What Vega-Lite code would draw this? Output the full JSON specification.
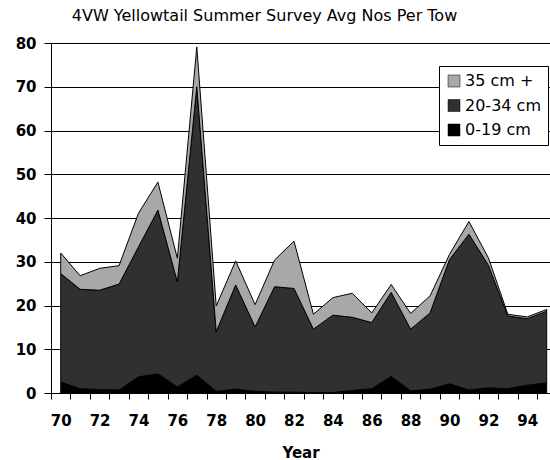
{
  "$schema": "https://vega.github.io/schema/vega-lite/v6.json",
  "autosize": {"type": "none"},
  "padding": {"left": 51, "top": 43, "right": 0, "bottom": 67},
  "width": 499,
  "height": 350,
  "background": "white",
  "title": {
    "text": "4VW Yellowtail Summer Survey Avg Nos Per Tow",
    "font": "DejaVu Sans",
    "fontSize": 16,
    "fontWeight": "normal",
    "color": "black",
    "anchor": "middle",
    "baseline": "alphabetic",
    "offset": -1,
    "dx": -36
  },
  "config": {
    "view": {"stroke": null},
    "axis": {
      "labelFont": "DejaVu Sans",
      "labelFontWeight": "bold",
      "labelFontSize": 15,
      "labelColor": "black",
      "titleFont": "DejaVu Sans",
      "titleFontWeight": "bold",
      "titleFontSize": 15,
      "titleColor": "black",
      "domainColor": "black",
      "tickColor": "black",
      "gridColor": "black",
      "gridOpacity": 1
    },
    "legend": {
      "labelFont": "DejaVu Sans",
      "labelFontSize": 16,
      "labelColor": "black"
    }
  },
  "data": {
    "values": [
      {"year": 70, "size": "0-19 cm", "n": 2.5}, {"year": 70, "size": "20-34 cm", "n": 24.8}, {"year": 70, "size": "35 cm +", "n": 4.7},
      {"year": 71, "size": "0-19 cm", "n": 1.0}, {"year": 71, "size": "20-34 cm", "n": 22.7}, {"year": 71, "size": "35 cm +", "n": 3.1},
      {"year": 72, "size": "0-19 cm", "n": 0.8}, {"year": 72, "size": "20-34 cm", "n": 22.7}, {"year": 72, "size": "35 cm +", "n": 5.0},
      {"year": 73, "size": "0-19 cm", "n": 0.7}, {"year": 73, "size": "20-34 cm", "n": 24.2}, {"year": 73, "size": "35 cm +", "n": 4.2},
      {"year": 74, "size": "0-19 cm", "n": 3.7}, {"year": 74, "size": "20-34 cm", "n": 29.7}, {"year": 74, "size": "35 cm +", "n": 7.7},
      {"year": 75, "size": "0-19 cm", "n": 4.4}, {"year": 75, "size": "20-34 cm", "n": 37.4}, {"year": 75, "size": "35 cm +", "n": 6.4},
      {"year": 76, "size": "0-19 cm", "n": 1.4}, {"year": 76, "size": "20-34 cm", "n": 24.0}, {"year": 76, "size": "35 cm +", "n": 5.4},
      {"year": 77, "size": "0-19 cm", "n": 4.1}, {"year": 77, "size": "20-34 cm", "n": 65.9}, {"year": 77, "size": "35 cm +", "n": 9.1},
      {"year": 78, "size": "0-19 cm", "n": 0.4}, {"year": 78, "size": "20-34 cm", "n": 13.6}, {"year": 78, "size": "35 cm +", "n": 5.9},
      {"year": 79, "size": "0-19 cm", "n": 0.9}, {"year": 79, "size": "20-34 cm", "n": 23.8}, {"year": 79, "size": "35 cm +", "n": 5.5},
      {"year": 80, "size": "0-19 cm", "n": 0.4}, {"year": 80, "size": "20-34 cm", "n": 14.7}, {"year": 80, "size": "35 cm +", "n": 5.1},
      {"year": 81, "size": "0-19 cm", "n": 0.2}, {"year": 81, "size": "20-34 cm", "n": 24.1}, {"year": 81, "size": "35 cm +", "n": 6.1},
      {"year": 82, "size": "0-19 cm", "n": 0.2}, {"year": 82, "size": "20-34 cm", "n": 23.7}, {"year": 82, "size": "35 cm +", "n": 10.8},
      {"year": 83, "size": "0-19 cm", "n": 0.1}, {"year": 83, "size": "20-34 cm", "n": 14.5}, {"year": 83, "size": "35 cm +", "n": 3.4},
      {"year": 84, "size": "0-19 cm", "n": 0.1}, {"year": 84, "size": "20-34 cm", "n": 17.7}, {"year": 84, "size": "35 cm +", "n": 4.0},
      {"year": 85, "size": "0-19 cm", "n": 0.6}, {"year": 85, "size": "20-34 cm", "n": 16.7}, {"year": 85, "size": "35 cm +", "n": 5.5},
      {"year": 86, "size": "0-19 cm", "n": 1.0}, {"year": 86, "size": "20-34 cm", "n": 15.1}, {"year": 86, "size": "35 cm +", "n": 2.2},
      {"year": 87, "size": "0-19 cm", "n": 3.8}, {"year": 87, "size": "20-34 cm", "n": 19.2}, {"year": 87, "size": "35 cm +", "n": 1.8},
      {"year": 88, "size": "0-19 cm", "n": 0.5}, {"year": 88, "size": "20-34 cm", "n": 14.1}, {"year": 88, "size": "35 cm +", "n": 3.6},
      {"year": 89, "size": "0-19 cm", "n": 0.9}, {"year": 89, "size": "20-34 cm", "n": 17.4}, {"year": 89, "size": "35 cm +", "n": 3.9},
      {"year": 90, "size": "0-19 cm", "n": 2.1}, {"year": 90, "size": "20-34 cm", "n": 28.4}, {"year": 90, "size": "35 cm +", "n": 1.2},
      {"year": 91, "size": "0-19 cm", "n": 0.7}, {"year": 91, "size": "20-34 cm", "n": 35.6}, {"year": 91, "size": "35 cm +", "n": 2.9},
      {"year": 92, "size": "0-19 cm", "n": 1.2}, {"year": 92, "size": "20-34 cm", "n": 28.0}, {"year": 92, "size": "35 cm +", "n": 1.7},
      {"year": 93, "size": "0-19 cm", "n": 1.0}, {"year": 93, "size": "20-34 cm", "n": 16.6}, {"year": 93, "size": "35 cm +", "n": 0.4},
      {"year": 94, "size": "0-19 cm", "n": 1.8}, {"year": 94, "size": "20-34 cm", "n": 15.2}, {"year": 94, "size": "35 cm +", "n": 0.4},
      {"year": 95, "size": "0-19 cm", "n": 2.3}, {"year": 95, "size": "20-34 cm", "n": 16.4}, {"year": 95, "size": "35 cm +", "n": 0.4}
    ]
  },
  "mark": {"type": "area", "stroke": "black", "strokeWidth": 1, "opacity": 1, "fillOpacity": 1, "clip": true},
  "encoding": {
    "x": {
      "field": "year",
      "type": "quantitative",
      "scale": {"domain": [69.5, 95.17], "nice": false, "zero": false},
      "axis": {
        "title": "Year",
        "values": [70,71,72,73,74,75,76,77,78,79,80,81,82,83,84,85,86,87,88,89,90,91,92,93,94,95],
        "format": "d",
        "labelExpr": "datum.value % 2 == 0 ? datum.label : ''",
        "labelOverlap": false,
        "labelFlush": false,
        "tickOffset": -9.72,
        "labelOffset": 9.72,
        "tickSize": 6,
        "labelPadding": 14,
        "titlePadding": 17,
        "grid": false
      }
    },
    "y": {
      "field": "n",
      "type": "quantitative",
      "stack": "zero",
      "scale": {"domain": [0, 80], "nice": false},
      "axis": {
        "title": null,
        "values": [0,10,20,30,40,50,60,70,80],
        "tickSize": 7,
        "labelPadding": 8,
        "grid": true,
        "gridWidth": 1
      }
    },
    "color": {
      "field": "size",
      "type": "nominal",
      "scale": {
        "domain": ["35 cm +", "20-34 cm", "0-19 cm"],
        "range": ["#a8a8a8", "#303030", "#000000"]
      },
      "legend": {
        "title": null,
        "orient": "none",
        "legendX": 388,
        "legendY": 23,
        "padding": 7,
        "fillColor": "white",
        "strokeColor": "black",
        "symbolType": "square",
        "symbolSize": 144,
        "symbolStrokeColor": "black",
        "symbolStrokeWidth": 0.5,
        "symbolOpacity": 1,
        "rowPadding": 8.5,
        "labelOffset": 3
      }
    },
    "order": {"field": "size", "sort": "ascending"}
  }
}
